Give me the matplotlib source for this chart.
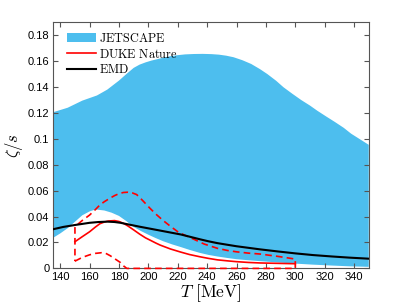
import matplotlib
matplotlib.use("Agg")
import matplotlib.pyplot as plt
import numpy as np

plt.rcParams['mathtext.fontset'] = 'cm'
plt.rcParams['font.family'] = ['Liberation Sans', 'DejaVu Sans']

# JETSCAPE band (upper / lower edges)
T_up = [135, 145, 155, 165, 172, 180, 185, 190, 194, 198, 202, 206, 210, 215,
        220, 225, 231, 237, 243, 248, 253, 258, 264, 270, 276, 281, 287, 292,
        298, 304, 310, 315, 321, 327, 333, 338, 344, 350]
z_up = [0.1205, 0.124, 0.1295, 0.1335, 0.138, 0.145, 0.150, 0.1548, 0.1573,
        0.159, 0.1604, 0.1615, 0.1626, 0.1638, 0.1646, 0.1652, 0.1655, 0.1656,
        0.1654, 0.165, 0.1642, 0.163, 0.1607, 0.1578, 0.1538, 0.150, 0.1448,
        0.1398, 0.1348, 0.130, 0.1257, 0.1217, 0.1173, 0.113, 0.1085, 0.104,
        0.0997, 0.0954]
T_lo = [135, 140, 145, 150, 155, 160, 164, 170, 175, 180, 185, 190, 195, 200,
        205, 210, 216, 222, 228, 235, 241, 247, 254, 260, 268, 276, 288, 300,
        312, 325, 337, 350]
z_lo = [0.0235, 0.027, 0.031, 0.036, 0.041, 0.044, 0.0455, 0.0447, 0.043,
        0.0405, 0.0365, 0.032, 0.0288, 0.026, 0.0234, 0.021, 0.0186, 0.0165,
        0.0143, 0.012, 0.0104, 0.0092, 0.008, 0.0071, 0.0063, 0.0056, 0.0046,
        0.0037, 0.0029, 0.0022, 0.0016, 0.0012]

# EMD
T_emd = [135, 142, 150, 160, 166, 172, 177, 181, 187, 194, 201, 208, 215, 222,
         228, 235, 241, 247, 254, 260, 268, 276, 288, 300, 312, 325, 337, 350]
z_emd = [0.0302, 0.032, 0.0335, 0.0352, 0.0358, 0.0361, 0.0358, 0.0352, 0.0338,
         0.0322, 0.0307, 0.0292, 0.0277, 0.0262, 0.0245, 0.0225, 0.0209, 0.0195,
         0.0182, 0.0171, 0.0159, 0.0147, 0.0131, 0.0116, 0.0103, 0.0092,
         0.0083, 0.0075]

# DUKE Nature: median and band edges
T_dk = [150, 155, 160, 164, 167, 170, 173, 177, 180, 183, 186, 190, 194, 198,
        201, 205, 208, 215, 222, 228, 235, 241, 247, 254, 260, 268, 276, 288, 300]
z_dk = [0.0206, 0.0245, 0.0283, 0.032, 0.0345, 0.0358, 0.0366, 0.0369, 0.0362,
        0.0348, 0.0328, 0.0297, 0.0265, 0.0236, 0.0219, 0.0196, 0.018, 0.015,
        0.0126, 0.0107, 0.009, 0.0077, 0.0066, 0.0058, 0.0052, 0.0046, 0.0042,
        0.0039, 0.0036]
T_dk_up = [150, 155, 160, 164, 167, 170, 174, 177, 180, 183, 186, 189, 192,
           196, 201, 205, 210, 215, 220, 225, 230, 238, 247, 254, 260, 268,
           276, 288, 300]
z_dk_up = [0.0322, 0.037, 0.0412, 0.0455, 0.049, 0.0515, 0.0543, 0.0562,
           0.0577, 0.0586, 0.0588, 0.0583, 0.057, 0.0525, 0.0465, 0.042, 0.037,
           0.0325, 0.0283, 0.0255, 0.023, 0.0188, 0.0155, 0.0138, 0.0128,
           0.0118, 0.0111, 0.0093, 0.0072]
T_dk_lo = [150, 155, 160, 164, 168, 171, 174, 178.5, 181, 183, 185.3, 300]
z_dk_lo = [0.0056, 0.0085, 0.0105, 0.0116, 0.0121, 0.0116, 0.0098, 0.0064,
           0.0045, 0.002, 0.0, 0.0]

fig = plt.figure(figsize=(4.07, 3.05), dpi=100)
ax = fig.add_axes([0.130, 0.120, 0.776, 0.807])

T_band = np.concatenate([T_up, T_lo[::-1]])
z_band = np.concatenate([z_up, z_lo[::-1]])
ax.fill(T_band, z_band, color='#4DBEEE', lw=0, label=r'$\mathrm{JETSCAPE}$')

ax.plot(T_dk, z_dk, color='r', lw=1.2, label=r'$\mathrm{DUKE\ Nature}$', zorder=3)
T_dash = np.concatenate([T_dk_lo, T_dk_up[::-1], [T_dk_lo[0]]])
z_dash = np.concatenate([z_dk_lo, z_dk_up[::-1], [z_dk_lo[0]]])
ax.plot(T_dash, z_dash, color='r', lw=1.2, ls=(0, (4, 2.5)), zorder=3, clip_on=False)

ax.plot(T_emd, z_emd, color='k', lw=1.5, label=r'$\mathrm{EMD}$', zorder=4)

ax.set_xlim(135, 350)
ax.set_ylim(0, 0.19)
ax.set_xticks(np.arange(140, 341, 20))
ax.set_yticks(np.arange(0, 0.181, 0.02))
ax.yaxis.set_major_formatter(matplotlib.ticker.FormatStrFormatter('%g'))
ax.tick_params(direction='in', top=True, right=True, length=3.5, width=0.8,
               color='#555555', labelsize=8, pad=2.5)
for s in ax.spines.values():
    s.set_color('#555555')
    s.set_linewidth(0.8)

ax.set_xlabel(r'$T\ [\mathrm{MeV}]$', fontsize=12.5, labelpad=0)
ax.set_ylabel(r'$\zeta/s$', fontsize=12, labelpad=2)

ax.legend(loc='upper left', bbox_to_anchor=(0.02, 0.99), frameon=False,
          fontsize=8.8, handlelength=2.4, handleheight=0.8, handletextpad=0.25,
          labelspacing=0.22, borderaxespad=0.2)

fig.savefig('out.png', dpi=100)
